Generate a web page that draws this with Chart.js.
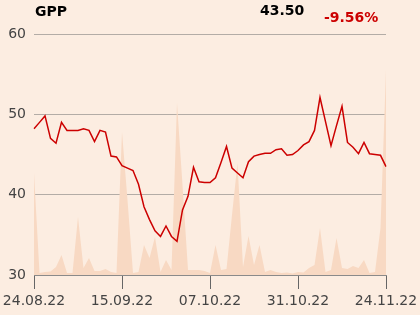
<!DOCTYPE html>
<html>
<head>
<meta charset="utf-8">
<script src="https://cdn.jsdelivr.net/npm/chart.js@4/dist/chart.umd.min.js"></script>
<style>
  html, body { margin: 0; padding: 0; background: #fcede1; }
  #wrap { position: relative; width: 420px; height: 315px; font-family: "DejaVu Sans", sans-serif; }
  .hdr { position: absolute; font-weight: bold; font-size: 14px; line-height: 16px; }
  #sym { left: 35px; top: 3px; color: #000; }
  #last { left: 260px; top: 2px; color: #000; }
  #chg { left: 324px; top: 9px; color: #cc0000; }
  canvas { position: absolute; left: 0; top: 0; }
</style>
</head>
<body>
<div id="wrap">
  <canvas id="chart" width="420" height="315"></canvas>
  <div class="hdr" id="sym">GPP</div>
  <div class="hdr" id="last">43.50</div>
  <div class="hdr" id="chg">-9.56%</div>
</div>
<script>
// trading days, 24.08.22 .. 24.11.22
var dates = [
  '24.08.22', '25.08.22', '26.08.22', '29.08.22', '30.08.22', '31.08.22',
  '01.09.22', '02.09.22', '05.09.22', '06.09.22', '07.09.22', '08.09.22', '09.09.22',
  '12.09.22', '13.09.22', '14.09.22', '15.09.22', '16.09.22', '19.09.22', '20.09.22',
  '21.09.22', '22.09.22', '23.09.22', '26.09.22', '27.09.22', '28.09.22', '29.09.22',
  '30.09.22', '03.10.22', '04.10.22', '05.10.22', '06.10.22', '07.10.22', '10.10.22',
  '11.10.22', '12.10.22', '13.10.22', '14.10.22', '17.10.22', '18.10.22', '19.10.22',
  '20.10.22', '21.10.22', '24.10.22', '25.10.22', '26.10.22', '27.10.22', '28.10.22',
  '31.10.22', '02.11.22', '03.11.22', '04.11.22', '07.11.22', '08.11.22', '09.11.22',
  '10.11.22', '14.11.22', '15.11.22', '16.11.22', '17.11.22', '18.11.22', '21.11.22',
  '22.11.22', '23.11.22', '24.11.22'
];

var prices = [
  48.2, 49.0, 49.8, 47.0, 46.4, 49.0, 48.0, 48.0, 48.0, 48.2,
  48.0, 46.6, 48.0, 47.8, 44.8, 44.7, 43.6, 43.3, 43.0, 41.3,
  38.5, 36.9, 35.5, 34.8, 36.1, 34.8, 34.2, 38.1, 39.8, 43.4,
  41.6, 41.5, 41.5, 42.1, 44.0, 46.0, 43.3, 42.7, 42.1, 44.1,
  44.8, 45.0, 45.15, 45.15, 45.6, 45.7, 44.9, 45.0, 45.5, 46.2,
  46.6, 48.0, 52.1, 49.1, 46.1, 48.6, 51.0, 46.5, 45.9, 45.1,
  46.5, 45.1, 45.0, 44.9, 43.5
];

// volume, relative units
var volumes = [
  102, 2, 3, 3.5, 8, 20, 2, 2, 58, 7,
  17, 4, 4, 6, 3, 2, 143, 75, 2, 3,
  30, 17, 38, 3, 15, 5, 172, 90, 5, 5,
  5, 4, 2, 30, 5, 6, 60, 112, 8, 39,
  10, 30, 3, 5, 3, 2, 2.5, 1.5, 3, 2.5,
  7, 10, 47, 3, 5, 37, 7, 6, 9, 7,
  15, 2, 3, 47, 205
];

var yTicks = [30, 40, 50, 60];
var tickEvery = 16;

new Chart(document.getElementById('chart'), {
  type: 'line',
  data: {
    labels: dates,
    datasets: [
      {
        label: 'Price',
        data: prices,
        yAxisID: 'y',
        borderColor: '#cc0000',
        borderWidth: 1.5,
        pointRadius: 0,
        tension: 0,
        fill: false,
        order: 1
      },
      {
        label: 'Volume',
        data: volumes,
        yAxisID: 'vol',
        borderWidth: 0,
        borderColor: 'rgba(0,0,0,0)',
        backgroundColor: '#f8d9c3',
        pointRadius: 0,
        tension: 0,
        fill: 'origin',
        order: 2
      }
    ]
  },
  options: {
    responsive: false,
    animation: false,
    layout: { padding: { left: 0, right: 34, top: 34, bottom: 0 } },
    plugins: { legend: { display: false }, tooltip: { enabled: false } },
    scales: {
      x: {
        offset: false,
        afterFit: function (s) { s.height = 40; s.paddingLeft = 0; s.paddingRight = 0; },
        border: { display: true, color: '#8a8a8a', width: 1 },
        grid: {
          drawOnChartArea: false,
          drawTicks: true,
          tickLength: 14,
          color: function (ctx) { return ctx.index % tickEvery === 0 ? '#666' : 'rgba(0,0,0,0)'; }
        },
        ticks: {
          autoSkip: false,
          maxRotation: 0,
          padding: 4,
          color: '#444',
          font: { family: 'DejaVu Sans', size: 14 },
          callback: function (v, i) { return i % tickEvery === 0 ? dates[i] : ''; }
        }
      },
      y: {
        min: 30,
        max: 60,
        afterFit: function (s) { s.width = 34; },
        afterBuildTicks: function (s) { s.ticks = yTicks.map(function (v) { return { value: v }; }); },
        border: { display: false },
        grid: { color: '#b3aca6', lineWidth: 1, drawTicks: false },
        ticks: {
          padding: 8,
          color: '#444',
          font: { family: 'DejaVu Sans', size: 14 }
        }
      },
      vol: {
        display: false,
        min: 0,
        max: 241
      }
    }
  }
});
</script>
</body>
</html>
